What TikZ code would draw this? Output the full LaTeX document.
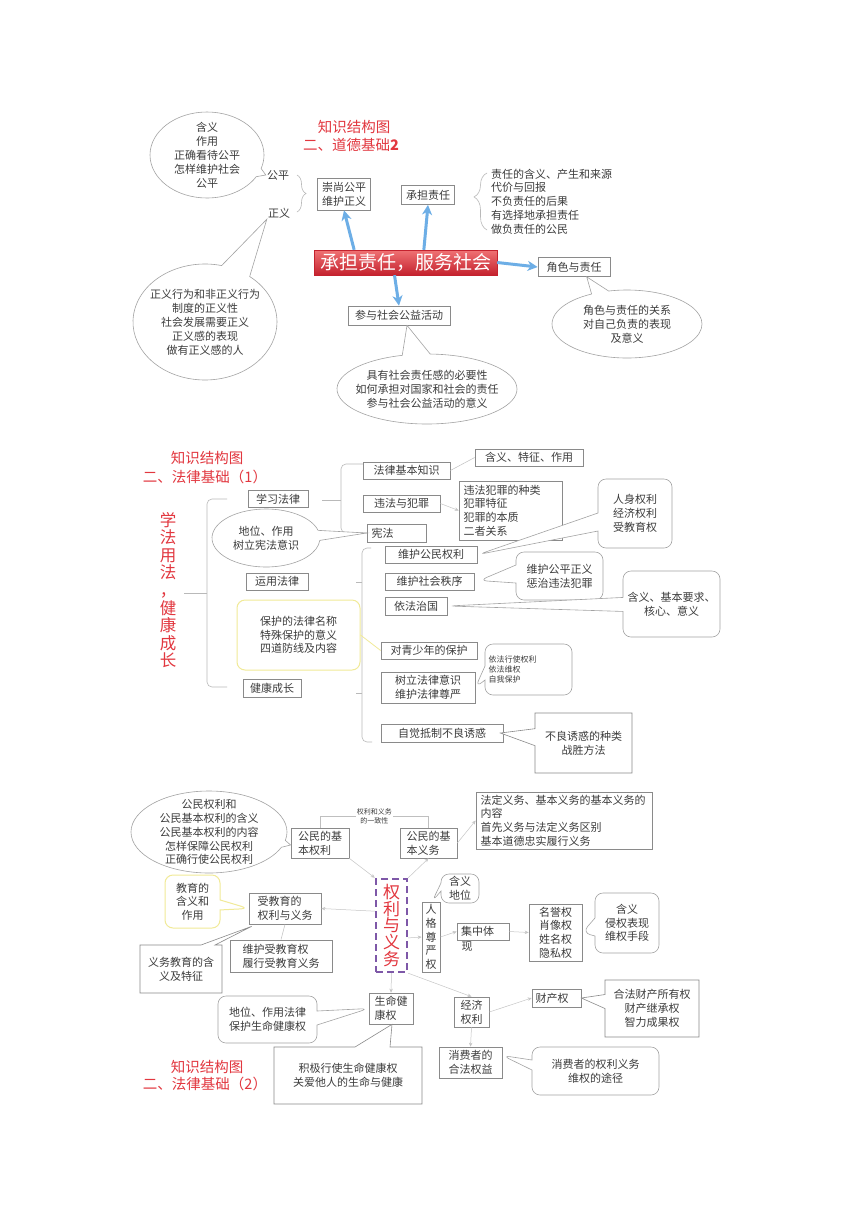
\documentclass[tikz,border=0pt]{standalone}
\usepackage{fontspec}
\setmainfont{Noto Sans CJK SC}
\usetikzlibrary{arrows.meta,positioning,calc,shapes.callouts,decorations.pathreplacing}
\definecolor{boxgray}{HTML}{8A8A8A}
\definecolor{ovalgray}{HTML}{A3A3A3}
\definecolor{txtgray}{HTML}{3C3C3C}
\definecolor{titred}{HTML}{E2373F}
\definecolor{arrblue}{HTML}{6DAEE6}
\definecolor{lawyellow}{HTML}{F1EA98}
\definecolor{dutypurple}{HTML}{7E58A8}
\definecolor{bannertop}{HTML}{F07274}
\definecolor{bannerbot}{HTML}{C4222E}

\begin{document}
\begin{tikzpicture}[x=1pt,y=-1pt,
    box/.style={draw=boxgray,line width=0.7pt,fill=white,inner sep=2pt,
      font=\fontsize{11}{13.7}\selectfont,text=txtgray,align=center},
    lbox/.style={box,align=left},
    plain/.style={inner sep=1pt,font=\fontsize{11}{13.7}\selectfont,text=txtgray,align=left},
    oval/.style={ellipse callout,draw=ovalgray,line width=0.6pt,fill=white,inner sep=0pt},
    otext/.style={align=center,font=\fontsize{11}{13.9}\selectfont,text=txtgray},
    rbub/.style={rectangle callout,rounded corners=8pt,draw=ovalgray,line width=0.6pt,
      fill=white,align=center,font=\fontsize{11}{13.7}\selectfont,text=txtgray,inner sep=2pt},
    sbub/.style={rectangle callout,draw=boxgray,line width=0.6pt,fill=white,
      align=center,font=\fontsize{11}{13.7}\selectfont,text=txtgray,inner sep=2pt},
    title/.style={text=titred,font=\fontsize{14.5}{16}\selectfont,inner sep=0pt},
    banner/.style={minimum width=183pt,minimum height=25pt,inner sep=0pt,
      top color=bannertop,bottom color=bannerbot,draw=bannerbot,line width=0.4pt,
      text=white,font=\fontsize{19}{20}\selectfont},
    dashbox/.style={draw=dutypurple,line width=2.4pt,dash pattern=on 7pt off 4pt,
      minimum width=31pt,minimum height=93pt,inner sep=0pt,align=center,text=titred,
      font=\fontsize{17}{16.6}\selectfont},
    vtext/.style={align=center,text=titred,inner sep=0pt,
      font=\fontsize{16.5}{17.6}\selectfont},
    blarrow/.style={-{Stealth[length=10pt,width=10pt,inset=3pt]},line width=3pt,draw=arrblue},
    farrow/.style={-{Stealth[length=4pt,width=3.5pt]},draw=gray!45,line width=0.5pt},
    fline/.style={draw=gray!50,line width=0.5pt},
    brk/.style={draw=gray!55,line width=0.6pt}
  ]
  \fill[white] (0,0) rectangle (860,1216);
  \useasboundingbox (0,0) rectangle (860,1216);

  % ---- 道德基础2
  \node[title] (t1a) at (354,127) {知识结构图};
  \node[title] (t1b) at (351,145) {二、道德基础\textbf{2}};
  \node[plain] (gongping) at (278,175) {公平};
  \node[plain] (zhengyi) at (279,213) {正义};
  \draw[brk,decorate,decoration={brace,amplitude=9pt}] (297,175) -- (297,212);
  \node[oval,minimum width=114pt,minimum height=86pt,callout absolute pointer=(gongping.west),
    callout pointer arc=12,label={[otext]center:含义\\作用\\正确看待公平\\怎样维护社会\\公平}] (gpoval) at (207,155) {};
  \node[oval,minimum width=144pt,minimum height=116pt,callout absolute pointer=(zhengyi.south west),
    callout pointer arc=25,label={[otext]center:正义行为和非正义行为\\制度的正义性\\社会发展需要正义\\正义感的表现\\做有正义感的人}] (zyoval) at (205,322) {};

  \node[lbox,minimum width=53pt,minimum height=32pt] (chongshang) at (344,194) {崇尚公平\\维护正义};
  \node[box,minimum width=53pt,minimum height=19pt] (chengdan) at (428,195) {承担责任};
  \draw[brk,decorate,decoration={brace,amplitude=13pt,aspect=0.58}] (487,230) -- (487,173);
  \node[plain,anchor=west] (zrlist) at (490,201.5) {责任的含义、产生和来源\\代价与回报\\不负责任的后果\\有选择地承担责任\\做负责任的公民};

  \node[banner] (banner) at (405.5,262.5) {承担责任，服务社会};
  \node[box,minimum width=72pt,minimum height=19pt] (juese) at (574,267) {角色与责任};
  \node[box,minimum width=102pt,minimum height=19pt] (canyu) at (399,315.5) {参与社会公益活动};
  \node[oval,minimum width=150pt,minimum height=68pt,
    callout absolute pointer={($(juese.south)!0.35!(juese.south east)$)},callout pointer arc=14,
    label={[otext]center:角色与责任的关系\\对自己负责的表现\\及意义}] (jsoval) at (627,324) {};
  \node[oval,minimum width=180pt,minimum height=70pt,
    callout absolute pointer={($(canyu.south)+(8,0)$)},callout pointer arc=18,
    label={[otext]center:具有社会责任感的必要性\\如何承担对国家和社会的责任\\参与社会公益活动的意义}] (cyoval) at (427,389) {};

  \draw[blarrow] ($(banner.north west)!0.22!(banner.north east)$) -- (chongshang.south);
  \draw[blarrow] ($(banner.north west)!0.6!(banner.north east)$) -- (chengdan.south);
  \draw[blarrow] (banner.east) -- (juese.west);
  \draw[blarrow] ($(banner.south west)!0.44!(banner.south east)$) -- (canyu.north);

  % ---- 法律基础（1）
  \node[title] (t2a) at (207,458) {知识结构图};
  \node[title] (t2b) at (205,477) {二、法律基础（1）};
  \node[vtext] (xfyf) at (168,590) {学\\法\\用\\法\\，\\健\\康\\成\\长};
  \draw[brk,rounded corners=5pt] (227,499) -| (207,687) -- (227,687);
  \draw[brk] (207,593) -- ++(-23,0);

  \node[box,minimum width=60pt,minimum height=17pt] (xuexi) at (278,499) {学习法律};
  \node[box,minimum width=62pt,minimum height=17pt] (yunyong) at (277,581.5) {运用法律};
  \node[box,minimum width=58pt,minimum height=18pt] (jiankang) at (272,688) {健康成长};

  \draw[brk,rounded corners=5pt] (363,464) -| (341,533) -- (367,533);
  \draw[brk] (341,500) -- ++(-19,0);
  \draw[brk,rounded corners=5pt] (371,548) -| (362,742) -- (372,742);
  \draw[brk] (362,582) -- ++(-6,0);
  \draw[brk] (362,693) -- ++(-6,0);

  \node[box,minimum width=87pt,minimum height=17pt] (flbz) at (406.5,470.5) {法律基本知识};
  \node[box,minimum width=108pt,minimum height=17pt] (hanyi1) at (529,457.5) {含义、特征、作用};
  \node[box,minimum width=77pt,minimum height=17pt] (wfzf) at (401.5,503.5) {违法与犯罪};
  \node[lbox,minimum width=103pt,minimum height=59pt,text width=94pt] (wflist) at (510.5,510.5) {违法犯罪的种类\\犯罪特征\\犯罪的本质\\二者关系};
  \node[box,minimum width=59pt,minimum height=18pt,align=left,text width=50pt] (xianfa) at (396.5,533) {宪法};
  \draw[fline] (flbz.east) -- (hanyi1.west);
  \draw[farrow] (wfzf.east) -- (wflist.west);
  \node[oval,minimum width=108pt,minimum height=58pt,callout absolute pointer=(xianfa.west),
    callout pointer arc=20,label={[otext]center:地位、作用\\树立宪法意识}] (xfoval) at (266,538) {};

  \node[box,minimum width=92pt,minimum height=17pt] (whgm) at (431,554.5) {维护公民权利};
  \node[box,minimum width=89pt,minimum height=17pt] (whsh) at (429.5,581.5) {维护社会秩序};
  \node[box,minimum width=62pt,minimum height=18pt] (yfzg) at (416,606) {依法治国};
  \node[rbub,minimum width=74pt,minimum height=69pt,callout absolute pointer={($(whgm.east)+(1,0)$)},
    callout pointer width=18pt] (rsbub) at (635,513.5) {人身权利\\经济权利\\受教育权};
  \node[rbub,minimum width=87pt,minimum height=48pt,callout absolute pointer={($(whsh.east)+(5,-1)$)},
    callout pointer width=18pt] (gzbub) at (559.5,576) {维护公平正义\\惩治违法犯罪};
  \node[rbub,minimum width=97pt,minimum height=66pt,callout absolute pointer={($(yfzg.east)+(1,0)$)},
    callout pointer width=14pt] (hy2bub) at (671.5,604) {含义、基本要求、\\核心、意义};

  \node[box,draw=lawyellow,line width=1pt,rounded corners=8pt,minimum width=123pt,minimum height=70pt]
    (baohu) at (298.5,635) {保护的法律名称\\特殊保护的意义\\四道防线及内容};
  \node[box,minimum width=96pt,minimum height=17pt] (qingshao) at (429,650.5) {对青少年的保护};
  \draw[draw=lawyellow,line width=0.8pt] (baohu.east) -- (qingshao.west);
  \node[lbox,minimum width=94pt,minimum height=31pt] (shuli) at (428,687.5) {树立法律意识\\维护法律尊严};
  \node[rbub,minimum width=87pt,minimum height=51pt,text width=80pt,align=left,
    font=\fontsize{8}{10}\selectfont,callout absolute pointer=(shuli.east),
    callout pointer width=14pt] (yfbub) at (528.5,669.5) {依法行使权利\\依法维权\\自我保护};
  \node[box,minimum width=122pt,minimum height=18pt] (zijue) at (442,733) {自觉抵制不良诱惑};
  \node[sbub,minimum width=97pt,minimum height=60pt,callout absolute pointer={($(zijue.east)+(-3,0)$)},
    callout pointer width=17pt] (blbox) at (583.5,743) {不良诱惑的种类\\战胜方法};

  % ---- 法律基础（2）
  \node[lbox,minimum width=58pt,minimum height=30pt] (gmql) at (320,843) {公民的基\\本权利};
  \node[lbox,minimum width=57pt,minimum height=30pt] (gmyw) at (428.5,843) {公民的基\\本义务};
  \draw[fline] (gmql.north) -- ++(0,-11) -| node[pos=0.25,fill=white,inner sep=1pt,align=center,
    text=txtgray,font=\fontsize{7}{9}\selectfont] (yizhi) {权利和义务\\的一致性} (gmyw.north);
  \node[oval,minimum width=156pt,minimum height=82pt,callout absolute pointer={($(gmql.west)+(0,2)$)},
    callout pointer arc=10,label={[otext]center:公民权利和\\公民基本权利的含义\\公民基本权利的内容\\怎样保障公民权利\\正确行使公民权利}] (qmoval) at (209,832) {};
  \node[lbox,minimum width=176pt,minimum height=57pt,text width=167pt] (ywlist) at (564,820.5)
    {法定义务、基本义务的基本义务的\\内容\\首先义务与法定义务区别\\基本道德忠实履行义务};

  \node[dashbox] (qlyw) at (391.5,925.5) {权\\利\\与\\义\\务};
  \node[lbox,minimum width=72pt,minimum height=31pt] (sjy) at (285,908.5) {受教育的\\权利与义务};
  \node[rbub,draw=lawyellow,line width=1pt,minimum width=55pt,minimum height=53pt,
    callout absolute pointer=(sjy.west),callout pointer width=10pt] (jybub) at (192.5,901.5) {教育的\\含义和\\作用};
  \node[sbub,minimum width=82pt,minimum height=48pt,callout absolute pointer={($(sjy.south west)+(3,2)$)},
    callout pointer width=14pt] (ywjy) at (181,969) {义务教育的含\\义及特征};
  \node[lbox,minimum width=102pt,minimum height=32pt] (whsj) at (281,956) {维护受教育权\\履行受教育义务};
  \draw[fline] (whsj.north) -- (sjy.south);

  \node[box,minimum width=18pt,minimum height=70pt,inner sep=0pt] (rgzy) at (431,937) {人\\格\\尊\\严\\权};
  \node[rbub,minimum width=38pt,minimum height=29pt,callout absolute pointer={($(rgzy.north)+(1,0)$)},
    callout pointer width=8pt] (hdbub) at (460,888.5) {含义\\地位};
  \node[box,minimum width=52pt,minimum height=17pt,align=left,text width=44pt] (jzt) at (483,931.5) {集中体};
  \node[plain] (jzt2) at (467,947) {现};
  \node[lbox,minimum width=53pt,minimum height=57pt] (mingyu) at (555.5,932.5) {名誉权\\肖像权\\姓名权\\隐私权};
  \node[rbub,minimum width=64pt,minimum height=60pt,callout absolute pointer=(mingyu.east),
    callout pointer width=18pt] (qqbub) at (627,923) {含义\\侵权表现\\维权手段};

  \node[lbox,minimum width=44pt,minimum height=31pt] (smjk) at (391,1008.5) {生命健\\康权};
  \node[rbub,minimum width=99pt,minimum height=47pt,callout absolute pointer=(smjk.west),
    callout pointer width=14pt] (dzbub) at (267.5,1019.5) {地位、作用法律\\保护生命健康权};
  \node[sbub,minimum width=148pt,minimum height=57pt,callout absolute pointer={($(smjk.south)+(1,0)$)},
    callout pointer width=35pt] (jjbox) at (348,1075.5) {积极行使生命健康权\\关爱他人的生命与健康};
  \node[title] (t3a) at (207,1067) {知识结构图};
  \node[title] (t3b) at (205,1084) {二、法律基础（2）};

  \node[lbox,minimum width=35pt,minimum height=30pt] (jjql) at (471.5,1012) {经济\\权利};
  \node[box,minimum width=49pt,minimum height=18pt,align=left,text width=42pt] (ccq) at (556.5,998) {财产权};
  \node[sbub,minimum width=94pt,minimum height=57pt,callout absolute pointer=(ccq.east),
    callout pointer width=14pt] (ccbox) at (652,1008.5) {合法财产所有权\\财产继承权\\智力成果权};
  \node[lbox,minimum width=63pt,minimum height=31pt] (xfz) at (470.5,1062.5) {消费者的\\合法权益};
  \node[rbub,minimum width=127pt,minimum height=48pt,callout absolute pointer={($(xfz.east)+(0,-7)$)},
    callout pointer width=10pt] (xfbub) at (595.5,1071) {消费者的权利义务\\维权的途径};

  \draw[farrow] (gmql.south east) -- (qlyw.north west);
  \draw[farrow] (qlyw.north east) -- (gmyw.south);
  \draw[farrow] (gmyw.east) -- (ywlist.west);
  \draw[farrow] ($(qlyw.north west)!0.35!(qlyw.south west)$) -- (sjy.east);
  \draw[farrow] ($(qlyw.north east)!0.63!(qlyw.south east)$) -- (rgzy.west);
  \draw[farrow] (qlyw.south) -- (smjk.north);
  \draw[farrow] (qlyw.south east) -- (jjql.north);
  \draw[farrow] (rgzy.east) -- (jzt.west);
  \draw[farrow] (jzt.east) -- (mingyu.west);
  \draw[farrow] (jjql.east) -- (ccq.west);
  \draw[farrow] (jjql.south) -- (xfz.north);
\end{tikzpicture}
\end{document}
